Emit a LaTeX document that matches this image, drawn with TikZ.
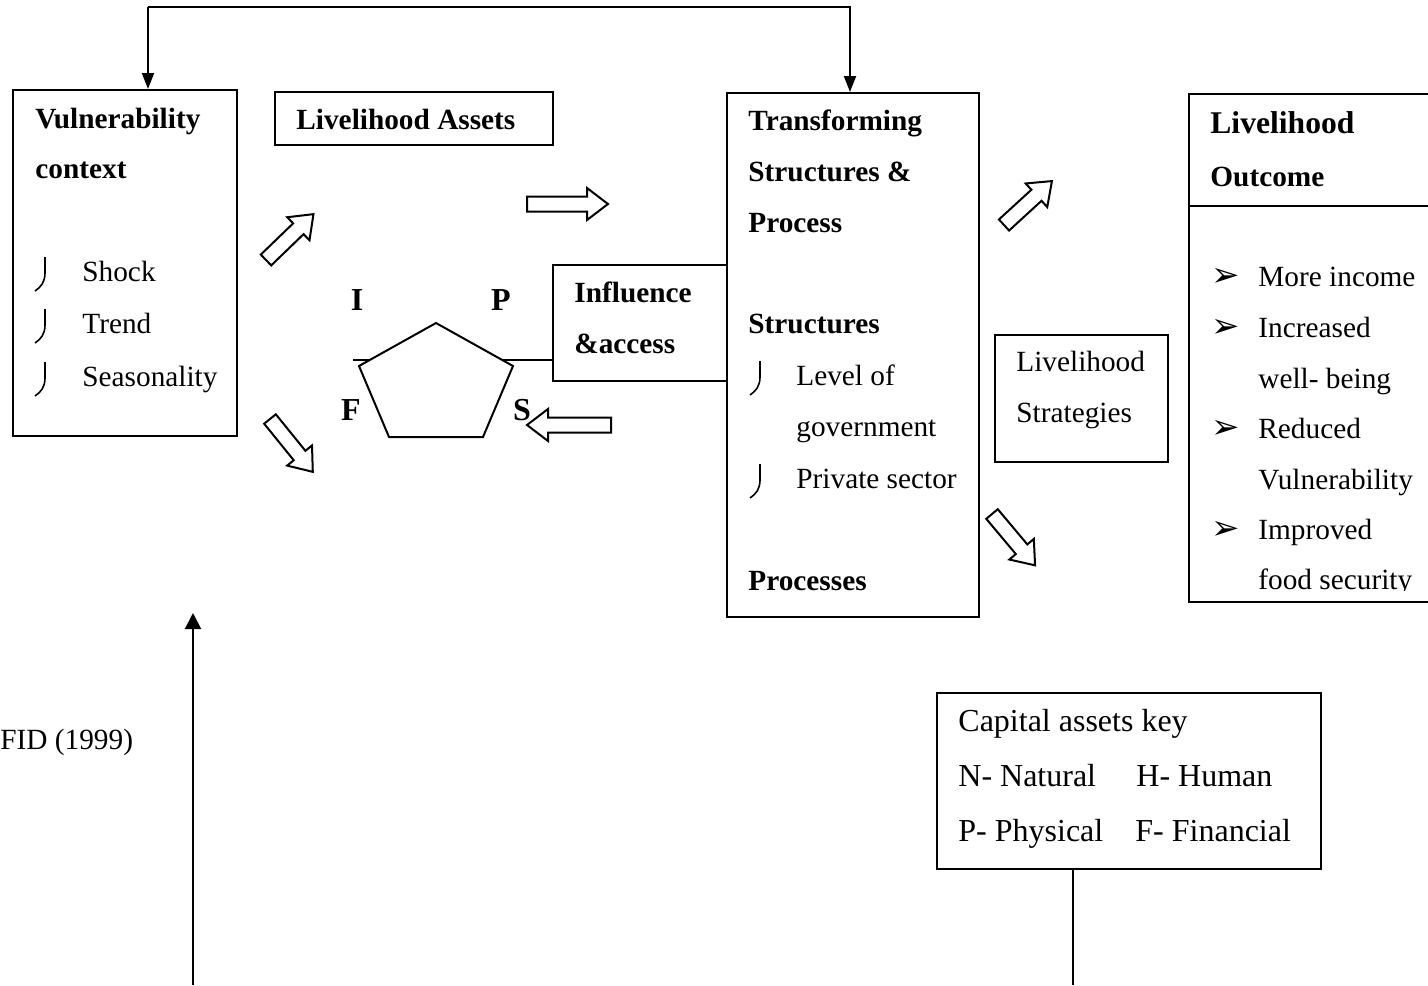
\documentclass[tikz,border=0pt]{standalone}
\usepackage{fontspec}
\setmainfont{Liberation Serif}
\newfontfamily\dejavu{DejaVu Sans}
\usetikzlibrary{fit,arrows.meta}
\newcommand\blockarr[4]{\draw[barrowstyle,shift={(#1,#2)},rotate=#3] (0,-7.5) -- ({#4-21},-7.5) -- ({#4-21},-16) -- (#4,0) -- ({#4-21},16) -- ({#4-21},7.5) -- (0,7.5) -- cycle;}
\newcommand\jbullet[2]{\draw[jstyle] ({#1+10},{#2-24}) -- ({#1+10},{#2-8}) .. controls ({#1+10},{#2+1}) and ({#1+6},{#2+6}) .. (#1,{#2+10});}
\begin{document}
\begin{tikzpicture}[x=0.5pt,y=-0.5pt,
  box/.style={draw,line width=1pt,inner sep=0pt},
  t/.style={anchor=base west,inner sep=0pt,font=\fontsize{14.65}{17}\selectfont},
  tk/.style={anchor=base west,inner sep=0pt,font=\fontsize{16}{19}\selectfont},
  tb/.style={anchor=base west,inner sep=0pt,font=\fontsize{14.65}{17}\selectfont\bfseries},
  lab/.style={inner sep=0pt,font=\fontsize{16}{19}\selectfont\bfseries},
  conn/.style={line width=1pt},
  arr/.style={conn,-{Triangle[length=8pt,width=6pt]}},
  uparr/.style={conn,-{Triangle[length=8pt,width=8pt]}},
  barrowstyle/.style={line width=1pt,fill=white,line join=miter},
  jstyle/.style={line width=0.8pt},
  bul/.style={anchor=base west,inner sep=0pt,font=\dejavu\fontsize{17}{19}\selectfont},
]
\useasboundingbox (0,0) rectangle (1428,985);

% boxes
\node[box,fit={(13,90)(237,436)}] (vul) {};
\node[box,fit={(275,92)(553,145)}] (assets) {};
\node[box,fit={(727,93)(979,617)}] (trans) {};
\node[box,fit={(553,265)(727,381)}] (infl) {};
\node[box,fit={(995,335)(1168,462)}] (strat) {};
\node[box,fit={(1189,94)(1432,602)}] (outc) {};
\node[box,fit={(937,693)(1321,869)}] (key) {};

% top connector
\coordinate (tl) at (148,7);
\coordinate (tr) at (850,7);
\draw[arr] (tl) -- (tl |- vul.north);
\draw[arr] (tl) -- (tr) -- (tr |- trans.north);

% bottom lines
\coordinate (bl) at (193,985);
\coordinate (bltop) at (193,613);
\draw[uparr] (bl) -- (bltop);
\coordinate (kb) at (1073,985);
\draw[conn] (key.south -| kb) -- (kb);

% outcome divider
\coordinate (dv) at (0,206);
\draw[conn] (outc.west |- dv) -- (outc.east |- dv);

% influence line and pentagon
\coordinate (pl) at (353,360);
\draw[conn] (pl) -- (infl.west |- pl);
\draw[line width=1pt,fill=white,line join=miter] (436,323) -- (513,366) -- (483,437) -- (389,437) -- (359,366) -- cycle;

% block arrows
\blockarr{266}{260}{44}{66}
\blockarr{527}{204}{0}{81}
\blockarr{270}{419}{-51}{68}
\blockarr{611}{425}{180}{84}
\blockarr{1004}{225}{42.5}{65}
\blockarr{992}{514}{-50}{67}

% pentagon labels
\node[lab] (lI) at (357,300) {I};
\node[lab] (lP) at (501,300) {P};
\node[lab] (lF) at (351,410) {F};
\node[lab] (lS) at (522,410) {S};

% vulnerability text
\node[tb] (v1) at (35,128) {Vulnerability};
\node[tb] (v2) at (35,178) {context};
\jbullet{35}{281}\node[t] (v3) at (82,281) {Shock};
\jbullet{35}{333}\node[t] (v4) at (82,333) {Trend};
\jbullet{35}{386}\node[t] (v5) at (82,386) {Seasonality};

% assets
\node[tb] (a1) at (296,129) {Livelihood Assets};

% transforming
\node[tb] (t1) at (748,130) {Transforming};
\node[tb] (t2) at (748,181) {Structures \&};
\node[tb] (t3) at (748,232) {Process};
\node[tb] (t4) at (748,333) {Structures};
\jbullet{750}{385}\node[t] (t5) at (796,385) {Level of};
\node[t] (t6) at (796,436) {government};
\jbullet{750}{488}\node[t] (t7) at (796,488) {Private sector};
\node[tb] (t8) at (748,590) {Processes};

% influence
\node[tb] (i1) at (574,302) {Influence};
\node[tb] (i2) at (574,353) {\&access};

% strategies
\node[t] (s1) at (1016,371) {Livelihood};
\node[t] (s2) at (1016,422) {Strategies};

% outcome
\node[anchor=base west,inner sep=0pt,font=\fontsize{15.8}{18}\selectfont\bfseries] (o1) at (1210,133) {Livelihood};
\node[tb] (o2) at (1210,186) {Outcome};
\node[bul] (b1) at (1211,286) {➢};
\node[t] (o3) at (1258,286) {More income};
\node[bul] (b2) at (1211,337) {➢};
\node[t] (o4) at (1258,337) {Increased};
\node[t] (o5) at (1258,388) {well- being};
\node[bul] (b3) at (1211,438) {➢};
\node[t] (o6) at (1258,438) {Reduced};
\node[t] (o7) at (1258,489) {Vulnerability};
\node[bul] (b4) at (1211,539) {➢};
\node[t] (o8) at (1258,539) {Improved};
\begin{scope}
\clip (1189,555) rectangle (1428,590);
\node[t] (o9) at (1258,589) {food security};
\end{scope}

% key
\node[tk] (k1) at (958,731) {Capital assets key};
\node[tk] (k2) at (958,786) {N- Natural};
\node[tk] (k3) at (1136,786) {H- Human};
\node[tk] (k4) at (958,841) {P- Physical};
\node[tk] (k5) at (1135,841) {F- Financial};

% source
\node[t] (src) at (0,749) {FID (1999)};
\end{tikzpicture}
\end{document}
